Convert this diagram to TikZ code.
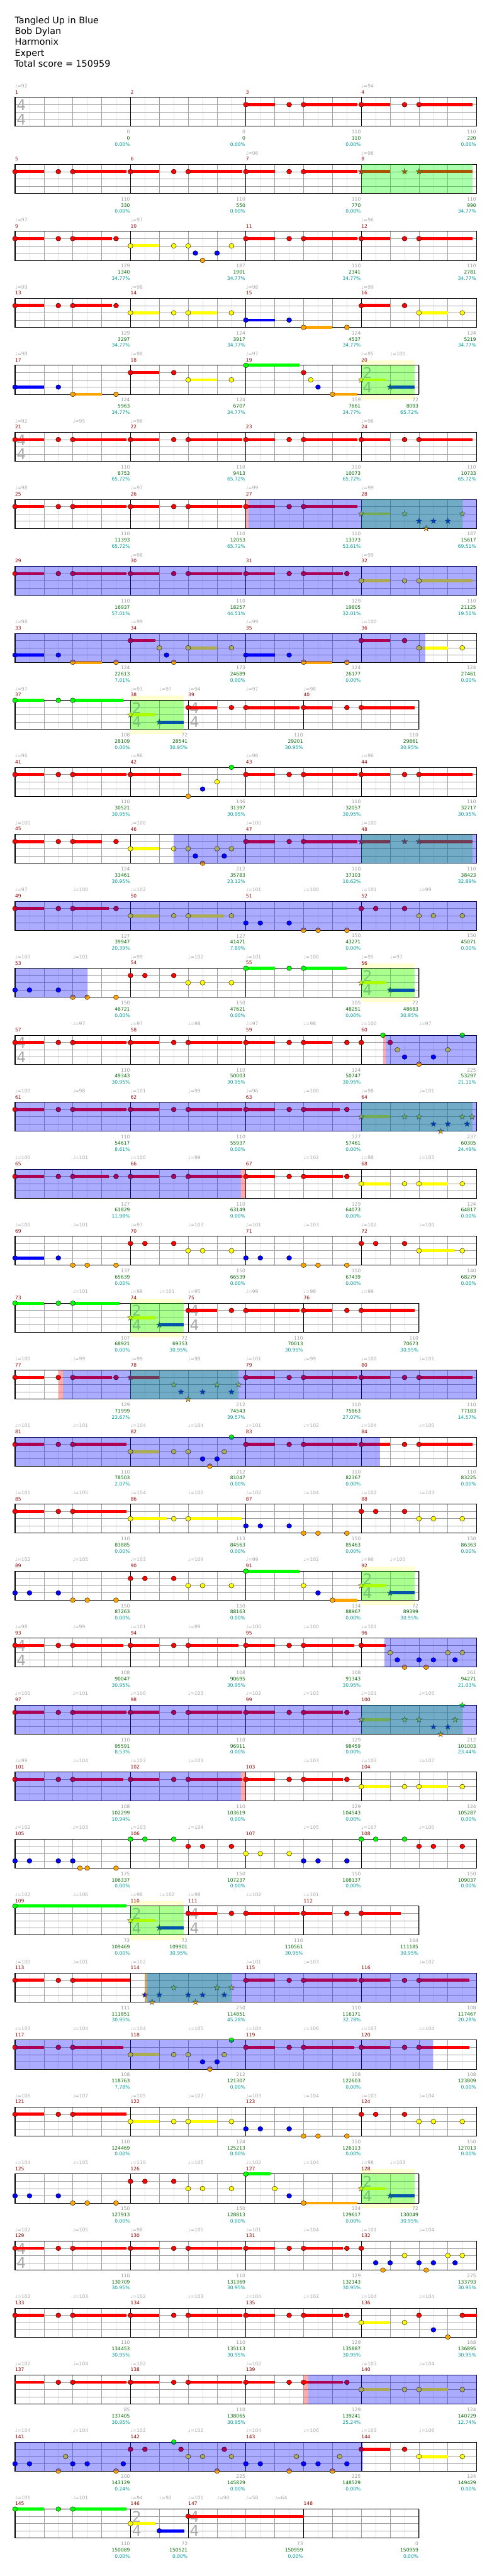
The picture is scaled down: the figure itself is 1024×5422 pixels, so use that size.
\documentclass[tikz,border=0pt]{standalone}
\usepackage{fontspec}
\setmainfont{DejaVu Sans}
\usepackage{xcolor}
\definecolor{FretGreen} {HTML}{00FF00}
\definecolor{FretRed}   {HTML}{FF0000}
\definecolor{FretYellow}{HTML}{FFFF00}
\definecolor{FretBlue}  {HTML}{0000FF}
\definecolor{FretOrange}{HTML}{FFA500}
\colorlet{Lane0}{FretGreen}
\colorlet{Lane1}{FretRed}
\colorlet{Lane2}{FretYellow}
\colorlet{Lane3}{FretBlue}
\colorlet{Lane4}{FretOrange}
\definecolor{MeasureRed}  {HTML}{990000}
\definecolor{TempoGray}   {HTML}{A8A8A8}
\definecolor{PtsGray}     {HTML}{999999}
\definecolor{TotalGreen}  {HTML}{006600}
\definecolor{PctTeal}     {HTML}{009999}
\definecolor{SigGray}     {HTML}{AAAAAA}
\definecolor{GridGray}    {HTML}{A0A0A0}
\definecolor{HalfGray}    {HTML}{E0E0E0}
\definecolor{UnisonYellow}{HTML}{FFFFD2}
\tikzset{
  eighthline/.style={HalfGray,line width=0.8pt},
  beatline/.style={GridGray,line width=0.8pt},
  laneline/.style={GridGray,line width=1pt},
  barline/.style={black,line width=0.8pt},
  gridbox/.style={black,line width=1.2pt},
  gem/.style={draw=black,line width=0.5pt},
  starnote/.style={draw=black!75,line width=0.5pt},
  measnum/.style={anchor=west,inner sep=0pt,font=\fontsize{10}{12}\selectfont,text=MeasureRed},
  tempomark/.style={anchor=west,inner sep=0pt,font=\fontsize{10}{12}\selectfont,text=TempoGray},
  ptsnum/.style={anchor=east,inner sep=0pt,font=\fontsize{10}{12}\selectfont,text=#1},
  sigdigit/.style={anchor=west,inner sep=0pt,font=\fontsize{31}{31}\selectfont,text=SigGray},
  headline/.style={anchor=base west,inner sep=0pt,font=\fontsize{19}{23}\selectfont},
}
% eighth position -> x in px
\newcommand\posx[1]{31.7+30.35*(#1)}
\newcommand\setrow[1]{\def\rowid{#1}\pgfmathsetmacro\rowy{205+141*(#1-1)}}
\newcommand\drawgrid[2]{%
  \foreach \e in {1,...,#1}{\ifodd\e\relax
      \draw[eighthline] ({\posx{\e}},\rowy) -- ++(0,61);
    \else
      \draw[beatline] ({\posx{\e}},\rowy) -- ++(0,61);
    \fi}
  \foreach \lane in {1,2,3}
    \draw[laneline] ({\posx{0}},{\rowy+15.25*\lane}) -- ({\posx{#1}},{\rowy+15.25*\lane});
  \foreach \pos/\num in {#2}{
    \draw[barline] ({\posx{\pos}},\rowy) -- ++(0,61);
    \node[measnum] (m\num) at ({\posx{\pos}},{\rowy-11}) {\num};}
  \draw[gridbox] ({\posx{0}},\rowy) rectangle ({\posx{#1}},{\rowy+61});}
\newcommand\timesig[3]{%
  \node[sigdigit] (sigt-\rowid-#1) at ({\posx{#1}+3},{\rowy+16}) {#2};
  \node[sigdigit] (sigb-\rowid-#1) at ({\posx{#1}+3},{\rowy+46}) {#3};}
\newcommand\tempi[1]{\foreach \pos/\bpm in {#1}{
  \node[tempomark] (bpm-\rowid-\pos) at ({\posx{\pos}},{\rowy-24}) {♩=\bpm};}}
\newcommand\sustains[1]{\foreach \lane/\from/\upto in {#1}{
  \fill[fill=Lane\lane] ({\posx{\from}},{\rowy+15.25*\lane-3.25}) rectangle ({\posx{\upto}},{\rowy+15.25*\lane+3.25});}}
\newcommand\gems[1]{\foreach \lane/\pos in {#1}{
  \filldraw[gem,fill=Lane\lane] ({\posx{\pos}},{\rowy+15.25*\lane}) ellipse [x radius=5.3pt,y radius=5pt];}}
\newcommand\stars[1]{\foreach \lane/\pos in {#1}{
  \filldraw[starnote,fill=Lane\lane,shift={({\posx{\pos}},{\rowy+15.25*\lane})}]
    (270:6.4) -- (306:2.6) -- (342:6.4) -- (18:2.6) -- (54:6.4) -- (90:2.6)
    -- (126:6.4) -- (162:2.6) -- (198:6.4) -- (234:2.6) -- cycle;}}
\newcommand\unisonbox[2]{\fill[UnisonYellow] ({\posx{#1}},{\rowy-10}) rectangle ({\posx{#2}},{\rowy+71});}
\newcommand\odzone[2]{\fill[FretGreen,fill opacity=0.33] ({\posx{#1}},\rowy) rectangle ({\posx{#2}},{\rowy+61});}
\newcommand\spzone[2]{\fill[FretBlue,fill opacity=0.33] ({\posx{#1}},\rowy) rectangle ({\posx{#2}},{\rowy+61});}
\newcommand\spcue[2]{\fill[FretRed,fill opacity=0.33] ({\posx{#1}},\rowy) rectangle ({\posx{#2}},{\rowy+61});}
\newcommand\scores[1]{\foreach \pos/\gain/\total/\pct in {#1}{
  \node[ptsnum=PtsGray]    (pts-\rowid-\pos) at ({\posx{\pos}-1},{\rowy+73}) {\gain};
  \node[ptsnum=TotalGreen] (tot-\rowid-\pos) at ({\posx{\pos}-1},{\rowy+86}) {\total};
  \node[ptsnum=PctTeal]    (pct-\rowid-\pos) at ({\posx{\pos}-1},{\rowy+99}) {\pct\%};}}

\begin{document}
\begin{tikzpicture}[x=1pt,y=-1pt]
  \useasboundingbox (0,0) rectangle (1024,5422);
  \fill[white] (0,0) rectangle (1024,5422);

  \node[headline] (song)   at (31,49.7)  {Tangled Up in Blue};
  \node[headline] (artist) at (31,72.7)  {Bob Dylan};
  \node[headline] (author) at (31,95.3)  {Harmonix};
  \node[headline] (level)  at (31,118)   {Expert};
  \node[headline] (total)  at (30,141.3) {Total score = 150959};

  % row 1: measures 1--4
  \setrow{1}
  \drawgrid{32}{0/1,8/2,16/3,24/4}
  \timesig{0}{4}{4}
  \tempi{0/92,24/94}
  \sustains{1/16/18,1/20/23.73,1/24/26,1/28/31.7}
  \gems{1/16,1/19,1/20,1/24,1/27,1/28}
  \scores{8/0/0/0.00,16/0/0/0.00,24/110/110/0.00,32/110/220/0.00}

  % row 2: measures 5--8
  \setrow{2}
  \drawgrid{32}{0/5,8/6,16/7,24/8}
  \tempi{16/96,24/96}
  \sustains{1/0/2,1/4/7.73,1/8/10,1/12/15.73,1/16/18,1/20/23.73,1/24/26,1/28/31.7}
  \gems{1/0,1/3,1/4,1/8,1/11,1/12,1/16,1/19,1/20}
  \stars{1/24,1/27,1/28}
  \odzone{24}{31.7}
  \scores{8/110/330/0.00,16/110/550/0.00,24/110/770/0.00,32/110/990/34.77}

  % row 3: measures 9--12
  \setrow{3}
  \drawgrid{32}{0/9,8/10,16/11,24/12}
  \tempi{0/97,8/97,24/96}
  \sustains{1/0/2,1/4/6.73,2/8/10,1/16/18,1/20/23.73,1/24/26,1/28/31.7}
  \gems{1/0,1/3,1/4,1/7,2/8,2/11,2/12,3/12.5,4/13,3/14,2/15,1/16,1/19,1/20,1/24,1/27,1/28}
  \scores{8/129/1340/34.77,16/187/1901/34.77,24/110/2341/34.77,32/110/2781/34.77}

  % row 4: measures 13--16
  \setrow{4}
  \drawgrid{32}{0/13,8/14,16/15,24/16}
  \tempi{0/99,8/98,16/98,24/99}
  \sustains{1/0/2,1/4/6.73,2/8/10,2/12/14,3/16/18,4/20/22,1/24/26,2/28/30}
  \gems{1/0,1/3,1/4,1/7,2/8,2/11,2/12,2/15,3/16,3/19,4/20,4/23,1/24,1/27,2/28,2/31}
  \scores{8/129/3297/34.77,16/124/3917/34.77,24/124/4537/34.77,32/124/5219/34.77}

  % row 5: measures 17--20
  \setrow{5}
  \unisonbox{24}{27.7}
  \drawgrid{28}{0/17,8/18,16/19,24/20}
  \timesig{24}{2}{4}
  \tempi{0/98,8/98,16/97,24/95,26/100}
  \sustains{3/0/2,4/4/6,1/8/10,2/12/14,0/16/19.7,4/22/23.73,2/24/25.7,3/26/27.7}
  \gems{3/0,3/3,4/4,4/7,1/8,1/11,2/12,2/15,0/16,1/20,2/20.5,3/21,4/22}
  \stars{2/24,3/26}
  \odzone{24}{27.7}
  \scores{8/124/5963/34.77,16/124/6707/34.77,24/159/7661/34.77,28/72/8093/65.72}

  % row 6: measures 21--24
  \setrow{6}
  \drawgrid{32}{0/21,8/22,16/23,24/24}
  \timesig{0}{4}{4}
  \tempi{0/92,4/95,8/96,24/96}
  \sustains{1/0/2,1/4/7.73,1/8/10,1/12/15.73,1/16/18,1/20/23.73,1/24/26,1/28/31.7}
  \gems{1/0,1/3,1/4,1/8,1/11,1/12,1/16,1/19,1/20,1/24,1/27,1/28}
  \scores{8/110/8753/65.72,16/110/9413/65.72,24/110/10073/65.72,32/110/10733/65.72}

  % row 7: measures 25--28
  \setrow{7}
  \drawgrid{32}{0/25,8/26,16/27,24/28}
  \tempi{0/98,8/97,16/99,24/99}
  \sustains{1/0/2,1/4/7.73,1/8/10,1/12/15.73,1/16/18,1/20/23.73,2/24/26}
  \gems{1/0,1/3,1/4,1/8,1/11,1/12,1/16,1/19,1/20}
  \stars{2/24,2/27,3/28,4/28.5,3/29,3/30,2/31}
  \odzone{24}{31}
  \spcue{16}{16.2}
  \spzone{16.2}{32}
  \scores{8/110/11393/65.72,16/110/12053/65.72,24/110/13373/53.61,32/187/15617/69.51}

  % row 8: measures 29--32
  \setrow{8}
  \drawgrid{32}{0/29,8/30,16/31,24/32}
  \tempi{8/98,24/99}
  \sustains{1/0/2,1/4/7.73,1/8/10,1/12/15.73,1/16/18,1/20/22.73,2/24/26,2/28/31.7}
  \gems{1/0,1/3,1/4,1/8,1/11,1/12,1/16,1/19,1/20,1/23,2/24,2/27,2/28}
  \spzone{0}{32}
  \scores{8/110/16937/57.01,16/110/18257/44.51,24/129/19805/32.01,32/110/21125/19.51}

  % row 9: measures 33--36
  \setrow{9}
  \drawgrid{32}{0/33,8/34,16/35,24/36}
  \tempi{0/98,8/99,16/99,24/100}
  \sustains{3/0/2,4/4/6,1/8/9.73,2/12/14,3/16/18,4/20/22,1/24/26,2/28/30}
  \gems{3/0,3/3,4/4,4/7,1/8,2/10,3/10.5,4/11,2/12,2/15,3/16,3/19,4/20,4/23,1/24,1/27,2/28,2/31}
  \spzone{0}{28.45}
  \scores{8/124/22613/7.01,16/173/24689/0.00,24/124/26177/0.00,32/124/27461/0.00}

  % row 10: measures 37--40
  \setrow{10}
  \unisonbox{8}{11.7}
  \drawgrid{28}{0/37,8/38,12/39,20/40}
  \timesig{8}{2}{4}
  \timesig{12}{4}{4}
  \tempi{0/97,8/93,10/97,12/94,16/97,20/98}
  \sustains{0/0/2,0/4/7.5,2/8/9.73,3/10/11.7,1/12/14,1/16/19.7,1/20/22,1/24/27.7}
  \gems{0/0,0/3,0/4,1/12,1/15,1/16,1/20,1/23,1/24}
  \stars{2/8,3/10}
  \odzone{8}{11.7}
  \scores{8/108/28109/0.00,12/72/28541/30.95,20/110/29201/30.95,28/110/29861/30.95}

  % row 11: measures 41--44
  \setrow{11}
  \drawgrid{32}{0/41,8/42,16/43,24/44}
  \tempi{0/96,8/96,16/98,24/96}
  \sustains{1/0/2,1/4/7.73,1/8/11.5,1/16/18,1/20/23.73,1/24/26,1/28/31.7}
  \gems{1/0,1/3,1/4,1/8,4/12,3/13,2/14,0/15,1/16,1/19,1/20,1/24,1/27,1/28}
  \scores{8/110/30521/30.95,16/146/31397/30.95,24/110/32057/30.95,32/110/32717/30.95}

  % row 12: measures 45--48
  \setrow{12}
  \drawgrid{32}{0/45,8/46,16/47,24/48}
  \tempi{0/100,8/100,16/100,24/100}
  \sustains{1/0/2,1/4/6,2/8/10,1/16/18,1/20/23.73,1/24/26,1/28/31.7}
  \gems{1/0,1/3,1/4,1/7,2/8,2/11,2/12,3/12.5,4/13,2/14,3/14.5,2/15,1/16,1/19,1/20}
  \stars{1/24,1/27,1/28}
  \odzone{24}{31.7}
  \spzone{11}{32}
  \scores{8/124/33461/30.95,16/212/35783/23.12,24/110/37103/10.62,32/110/38423/32.89}

  % row 13: measures 49--52
  \setrow{13}
  \drawgrid{32}{0/49,8/50,16/51,24/52}
  \tempi{0/97,4/100,8/102,16/101,20/100,24/101,28/99}
  \sustains{1/0/2,1/4/6.5,2/8/10,2/12/14.5}
  \gems{1/0,1/3,1/4,1/7,2/8,2/11,2/12,2/15,3/16,3/17,3/19,4/20,4/21,4/23,1/24,1/25,1/27,2/28,2/29,2/31}
  \spzone{0}{32}
  \scores{8/127/39947/20.39,16/127/41471/7.89,24/150/43271/0.00,32/150/45071/0.00}

  % row 14: measures 53--56
  \setrow{14}
  \unisonbox{24}{27.7}
  \drawgrid{28}{0/53,8/54,16/55,24/56}
  \timesig{24}{2}{4}
  \tempi{0/100,4/101,8/99,12/102,16/101,20/100,24/95,26/97}
  \sustains{0/16/18,0/20/23,2/24/25.7,3/26/27.7}
  \gems{3/0,3/1,3/3,4/4,4/5,4/7,1/8,1/9,1/11,2/12,2/13,2/15,0/16,0/19,0/20}
  \stars{2/24,3/26}
  \odzone{24}{27.7}
  \spzone{0}{5}
  \scores{8/150/46721/0.00,16/150/47621/0.00,24/105/48251/0.00,28/72/48683/30.95}

  % row 15: measures 57--60
  \setrow{15}
  \drawgrid{32}{0/57,8/58,16/59,24/60}
  \timesig{0}{4}{4}
  \tempi{4/97,8/97,12/98,16/97,20/98,24/100,28/97}
  \sustains{1/0/2,1/4/7.73,1/8/10,1/12/15.73,1/16/18,1/20/22}
  \gems{1/0,1/3,1/4,1/8,1/11,1/12,1/16,1/19,1/20,1/23,1/24,0/25.5,1/26,2/26.5,3/27,4/28,3/29,2/30,0/31}
  \spcue{25.5}{25.7}
  \spzone{25.7}{32}
  \scores{8/110/49343/30.95,16/110/50003/30.95,24/124/50747/30.95,32/225/53297/21.11}

  % row 16: measures 61--64
  \setrow{16}
  \drawgrid{32}{0/61,8/62,16/63,24/64}
  \tempi{0/100,4/98,8/101,12/99,16/96,20/100,24/98,28/101}
  \sustains{1/0/2,1/4/7.73,1/8/10,1/12/15.73,1/16/18,1/20/22.5,2/24/26}
  \gems{1/0,1/3,1/4,1/8,1/11,1/12,1/16,1/19,1/20,1/23}
  \stars{2/24,2/27,2/28,3/29,4/29.5,3/30,2/31,3/31.33,2/31.67}
  \odzone{24}{31.7}
  \spzone{0}{32}
  \scores{8/110/54617/8.61,16/110/55937/0.00,24/127/57461/0.00,32/237/60305/24.49}

  % row 17: measures 65--68
  \setrow{17}
  \drawgrid{32}{0/65,8/66,16/67,24/68}
  \tempi{0/100,4/101,8/100,12/99,20/102,24/98,28/103}
  \sustains{1/0/2,1/4/6.5,1/8/10,1/12/15.73,1/16/18,1/20/22.73,2/24/26,2/28/30}
  \gems{1/0,1/3,1/4,1/7,1/8,1/11,1/12,1/16,1/19,1/20,1/23,2/24,2/27,2/28,2/31}
  \spzone{0}{15.65}
  \spcue{15.65}{16}
  \scores{8/127/61829/11.98,16/110/63149/0.00,24/129/64073/0.00,32/124/64817/0.00}

  % row 18: measures 69--72
  \setrow{18}
  \drawgrid{32}{0/69,8/70,16/71,24/72}
  \tempi{0/100,4/101,8/97,12/103,16/101,20/103,24/102,28/100}
  \sustains{3/0/2,2/28/30.5}
  \gems{3/0,3/3,4/4,4/5,4/7,1/8,1/9,1/11,2/12,2/13,2/15,3/16,3/17,3/19,4/20,4/21,4/23,1/24,1/25,1/27,2/28,2/31}
  \scores{8/137/65639/0.00,16/150/66539/0.00,24/150/67439/0.00,32/140/68279/0.00}

  % row 19: measures 73--76
  \setrow{19}
  \unisonbox{8}{11.7}
  \drawgrid{28}{0/73,8/74,12/75,20/76}
  \timesig{8}{2}{4}
  \timesig{12}{4}{4}
  \tempi{4/101,8/98,10/101,12/95,16/99,20/98,24/99}
  \sustains{0/0/2,0/4/7.23,2/8/9.73,3/10/11.7,1/12/14,1/16/19.7,1/20/22,1/24/27.7}
  \gems{0/0,0/3,0/4,1/12,1/15,1/16,1/20,1/23,1/24}
  \stars{2/8,3/10}
  \odzone{8}{11.7}
  \scores{8/107/68921/0.00,12/72/69353/30.95,20/110/70013/30.95,28/110/70673/30.95}

  % row 20: measures 77--80
  \setrow{20}
  \drawgrid{32}{0/77,8/78,16/79,24/80}
  \tempi{0/100,4/99,8/99,12/98,16/101,20/99,24/100,28/101}
  \sustains{1/0/2,1/4/6.73,1/8/10,1/16/18,1/20/23.73,1/24/26,1/28/31.7}
  \gems{1/0,1/3,1/4,1/7,1/16,1/19,1/20,1/24,1/27,1/28}
  \stars{1/8,2/11,3/11.5,4/12,3/13,2/14,3/15,2/15.5}
  \odzone{8}{15.5}
  \spcue{3}{3.3}
  \spzone{3.3}{32}
  \scores{8/129/71999/23.67,16/212/74543/39.57,24/110/75863/27.07,32/110/77183/14.57}

  % row 21: measures 81--84
  \setrow{21}
  \drawgrid{32}{0/81,8/82,16/83,24/84}
  \tempi{0/101,4/101,8/104,12/104,16/101,20/102,24/104,28/100}
  \sustains{1/0/2,1/4/7.73,2/8/10,1/16/18,1/20/23.73,1/24/26,1/28/31.7}
  \gems{1/0,1/3,1/4,2/8,2/11,2/12,3/13,4/13.5,3/14,2/14.5,0/15,1/16,1/19,1/20,1/24,1/27,1/28}
  \spzone{0}{25.3}
  \scores{8/110/78503/2.07,16/212/81047/0.00,24/110/82367/0.00,32/110/83225/0.00}

  % row 22: measures 85--88
  \setrow{22}
  \drawgrid{32}{0/85,8/86,16/87,24/88}
  \tempi{0/101,4/105,8/104,12/102,16/102,20/104,24/102,28/103}
  \sustains{1/0/2,1/4/7.73,2/8/10.5,2/12/15.7}
  \gems{1/0,1/3,1/4,2/8,2/11,2/12,3/16,3/17,3/19,4/20,4/21,4/23,1/24,1/25,1/27,2/28,2/29,2/31}
  \scores{8/110/83885/0.00,16/113/84563/0.00,24/150/85463/0.00,32/150/86363/0.00}

  % row 23: measures 89--92
  \setrow{23}
  \unisonbox{24}{27.7}
  \drawgrid{28}{0/89,8/90,16/91,24/92}
  \timesig{24}{2}{4}
  \tempi{0/102,4/105,8/103,12/104,16/99,20/102,24/96,26/100}
  \sustains{0/16/19.7,4/22/23.73,2/24/25.7,3/26/27.7}
  \gems{3/0,3/1,3/3,4/4,4/5,4/7,1/8,1/9,1/11,2/12,2/13,2/15,0/16,2/20,3/21,4/22}
  \stars{2/24,3/26}
  \odzone{24}{27.7}
  \scores{8/150/87263/0.00,16/150/88163/0.00,24/134/88967/0.00,28/72/89399/30.95}

  % row 24: measures 93--96
  \setrow{24}
  \drawgrid{32}{0/93,8/94,16/95,24/96}
  \timesig{0}{4}{4}
  \tempi{0/98,4/99,8/101,12/99,16/100,20/100,24/101}
  \sustains{1/0/2,1/4/7.5,1/8/10,1/12/15.5,1/16/18,1/20/23.5,1/24/25.7}
  \gems{1/0,1/3,1/4,1/8,1/11,1/12,1/16,1/19,1/20,1/24,2/26,3/26.5,4/27,3/28,4/28.5,3/29,2/30,3/30.5,2/31}
  \spzone{25.6}{32}
  \scores{8/108/90047/30.95,16/108/90695/30.95,24/108/91343/30.95,32/261/94271/21.03}

  % row 25: measures 97--100
  \setrow{25}
  \drawgrid{32}{0/97,8/98,16/99,24/100}
  \tempi{0/100,4/101,8/100,12/103,16/102,20/103,24/101,28/105}
  \sustains{1/0/2,1/4/7.73,1/8/10,1/12/15.73,1/16/18,1/20/22.73,2/24/26}
  \gems{1/0,1/3,1/4,1/8,1/11,1/12,1/16,1/19,1/20,1/23}
  \stars{2/24,2/27,2/28,3/29,4/29.5,3/30,2/30.5,0/31}
  \odzone{24}{31}
  \spzone{0}{32}
  \scores{8/110/95591/8.53,16/110/96911/0.00,24/129/98459/0.00,32/212/101003/23.44}

  % row 26: measures 101--104
  \setrow{26}
  \drawgrid{32}{0/101,8/102,16/103,24/104}
  \tempi{0/99,4/104,8/103,12/103,20/103,24/103,28/107}
  \sustains{1/0/2,1/4/7.5,1/8/10,1/12/15.73,1/16/18,1/20/22.73,2/24/26,2/28/30}
  \gems{1/0,1/3,1/4,1/8,1/11,1/12,1/16,1/19,1/20,1/23,2/24,2/27,2/28,2/31}
  \spzone{0}{15.65}
  \spcue{15.65}{16}
  \scores{8/108/102299/10.94,16/110/103619/0.00,24/129/104543/0.00,32/124/105287/0.00}

  % row 27: measures 105--108
  \setrow{27}
  \drawgrid{32}{0/105,8/106,16/107,24/108}
  \tempi{0/102,4/103,8/103,12/104,20/105,24/107,28/100}
  \gems{3/0,3/1,3/3,3/4,4/4.5,4/5,4/7,0/8,0/9,0/11,1/12,1/13,1/15,2/16,2/17,2/19,3/20,3/21,3/23,0/24,0/25,0/27,1/28,1/29,1/31}
  \scores{8/175/106337/0.00,16/150/107237/0.00,24/150/108137/0.00,32/150/109037/0.00}

  % row 28: measures 109--112
  \setrow{28}
  \unisonbox{8}{11.7}
  \drawgrid{28}{0/109,8/110,12/111,20/112}
  \timesig{8}{2}{4}
  \timesig{12}{4}{4}
  \tempi{0/102,4/106,8/98,10/102,12/98,16/102,20/101}
  \sustains{0/0/7.73,2/8/9.73,3/10/11.7,1/12/14,1/16/19.7,1/20/22,1/24/26.73}
  \gems{0/0,1/12,1/15,1/16,1/20,1/23,1/24}
  \stars{2/8,3/10}
  \odzone{8}{11.7}
  \scores{8/72/109469/0.00,12/72/109901/30.95,20/110/110561/30.95,28/104/111185/30.95}

  % row 29: measures 113--116
  \setrow{29}
  \drawgrid{32}{0/113,8/114,16/115,24/116}
  \tempi{0/100,4/101,8/102,16/101,20/103,28/102}
  \sustains{1/0/2,1/4/8,1/16/18,1/20/23.73,1/24/26,1/28/31.5}
  \gems{1/0,1/3,1/4,1/16,1/19,1/20,1/24,1/27,1/28}
  \stars{3/9,4/9.5,3/10,2/11,3/12,4/12.5,3/13,2/14,3/14.5,2/15}
  \odzone{9}{15}
  \spcue{9}{9.17}
  \spzone{9.17}{32}
  \scores{8/111/111851/30.95,16/250/114851/45.28,24/110/116171/32.78,32/108/117467/20.28}

  % row 30: measures 117--120
  \setrow{30}
  \drawgrid{32}{0/117,8/118,16/119,24/120}
  \tempi{0/103,4/104,8/104,12/105,16/104,20/106,24/107,28/104}
  \sustains{1/0/2,1/4/7.5,2/8/10,1/16/18,1/20/23.5,1/24/26,1/28/31.5}
  \gems{1/0,1/3,1/4,2/8,2/11,2/12,3/13,4/13.5,3/14,2/14.5,0/15,1/16,1/19,1/20,1/24,1/27,1/28}
  \spzone{0}{28.95}
  \scores{8/108/118763/7.78,16/212/121307/0.00,24/108/122603/0.00,32/108/123809/0.00}

  % row 31: measures 121--124
  \setrow{31}
  \drawgrid{32}{0/121,8/122,16/123,24/124}
  \tempi{0/106,4/107,8/105,12/107,16/103,20/104,24/103,28/104}
  \sustains{1/0/2,1/4/7.73,2/8/10,2/12/14}
  \gems{1/0,1/3,1/4,2/8,2/11,2/12,2/15,3/16,3/17,3/19,4/20,4/21,4/23,1/24,1/25,1/27,2/28,2/29,2/31}
  \scores{8/110/124469/0.00,16/124/125213/0.00,24/150/126113/0.00,32/150/127013/0.00}

  % row 32: measures 125--128
  \setrow{32}
  \unisonbox{24}{27.7}
  \drawgrid{28}{0/125,8/126,16/127,24/128}
  \timesig{24}{2}{4}
  \tempi{0/104,4/105,8/110,12/105,16/102,20/104,24/98,26/103}
  \sustains{0/16/17.7,4/20/23.73,2/24/25.7,3/26/27.7}
  \gems{3/0,3/1,3/3,4/4,4/5,4/7,1/8,1/9,1/11,2/12,2/13,2/15,0/16,2/18,3/19,4/20}
  \stars{2/24,3/26}
  \odzone{24}{27.7}
  \scores{8/150/127913/0.00,16/150/128813/0.00,24/134/129617/0.00,28/72/130049/30.95}

  % row 33: measures 129--132
  \setrow{33}
  \drawgrid{32}{0/129,8/130,16/131,24/132}
  \timesig{0}{4}{4}
  \tempi{0/102,4/105,8/98,12/105,16/101,20/104,24/101,28/104}
  \sustains{1/0/2,1/4/7.73,1/8/10,1/12/15.73,1/16/18,1/20/22.73}
  \gems{1/0,1/3,1/4,1/8,1/11,1/12,1/16,1/19,1/20,1/23,1/24,3/25,4/25.5,3/26,2/27,3/28,4/28.5,3/29,2/30,3/30.5,2/31}
  \scores{8/110/130709/30.95,16/110/131369/30.95,24/129/132143/30.95,32/275/133793/30.95}

  % row 34: measures 133--136
  \setrow{34}
  \drawgrid{32}{0/133,8/134,16/135,24/136}
  \tempi{0/102,4/103,8/102,12/103,16/104,20/102,24/104,28/104}
  \sustains{1/0/2,1/4/7.73,1/8/10,1/12/15.73,1/16/18,1/20/22.73,2/24/26,1/31/32}
  \gems{1/0,1/3,1/4,1/8,1/11,1/12,1/16,1/19,1/20,1/23,2/24,2/27,1/28,3/29,4/30,1/31}
  \scores{8/110/134453/30.95,16/110/135113/30.95,24/129/135887/30.95,32/168/136895/30.95}

  % row 35: measures 137--140
  \setrow{35}
  \drawgrid{32}{0/137,8/138,16/139,24/140}
  \tempi{0/102,4/104,8/102,16/102,24/103,28/104}
  \sustains{1/0/2,1/4/7.73,1/8/10,1/12/15.73,1/16/18,1/20/22.73,2/24/26,2/28/30}
  \gems{1/3,1/4,1/8,1/11,1/12,1/16,1/19,1/20,1/23,2/24,2/27,2/28,2/31}
  \spcue{20}{20.33}
  \spzone{20.33}{32}
  \scores{8/85/137405/30.95,16/110/138065/30.95,24/129/139241/25.24,32/124/140729/12.74}

  % row 36: measures 141--144
  \setrow{36}
  \drawgrid{32}{0/141,8/142,16/143,24/144}
  \tempi{0/104,4/104,8/102,12/102,16/104,20/106,24/103,28/106}
  \sustains{1/24/26,2/28/30}
  \gems{3/0,3/1,4/3,2/3.5,3/4,3/5,4/7,3/7.5,1/8,1/9,0/11,1/11.5,2/12,2/13,4/14,1/14.5,2/15,3/16,3/17,4/19,2/19.5,3/20,3/21,4/22,2/22.5,3/23,1/24,1/27,2/28,2/31}
  \spzone{0}{24.1}
  \scores{8/200/143129/0.24,16/225/145829/0.00,24/225/148529/0.00,32/124/149429/0.00}

  % row 37: measures 145--148
  \setrow{37}
  \drawgrid{28}{0/145,8/146,12/147,20/148}
  \timesig{8}{2}{4}
  \timesig{12}{4}{4}
  \tempi{0/101,4/101,8/94,10/92,12/101,14/90,16/58,18/64}
  \sustains{0/0/2,0/4/7.73,2/8/9.73,3/10/11.73,1/12/20}
  \gems{0/0,0/3,0/4,2/8,3/10,1/12}
  \scores{8/110/150089/0.00,12/72/150521/0.00,20/73/150959/0.00,28/0/150959/0.00}

\end{tikzpicture}
\end{document}
